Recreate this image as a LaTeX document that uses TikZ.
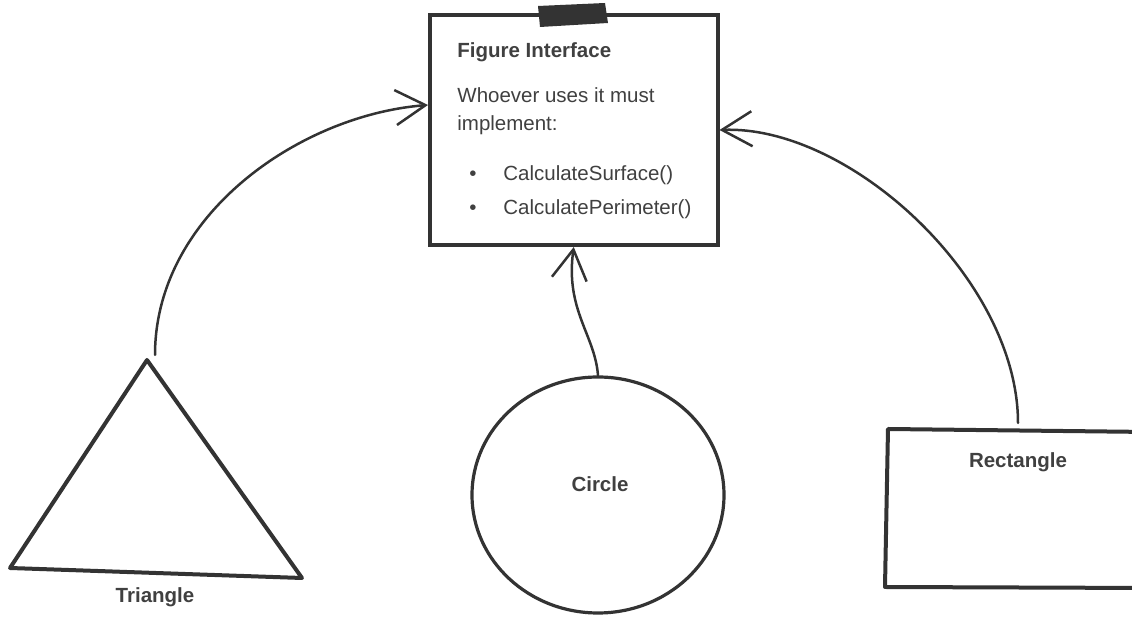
\documentclass[tikz,border=0pt]{standalone}
\usepackage{fontspec}
\setmainfont{Liberation Sans}
\usepackage{tikz}
\usetikzlibrary{arrows.meta,shapes.geometric,calc}
\definecolor{ink}{RGB}{51,51,51}
\definecolor{txtgray}{RGB}{64,64,64}
\tikzset{
  >={Straight Barb[length=15pt,width=17.5pt]},
  ifacebox/.style={draw=ink,line width=2pt,minimum width=143.75pt,
    minimum height=115pt,inner sep=0pt},
  ifacetxt/.style={font=\fontsize{10.25}{12}\selectfont,text=txtgray,
    anchor=base west,inner sep=0pt},
  ifacebul/.style={ifacetxt,anchor=base},
  shapelbl/.style={font=\fontsize{10.25}{12}\selectfont\bfseries,
    text=txtgray,anchor=base,inner sep=0pt},
  outline/.style={draw=ink,line width=2pt,line join=round},
  circbox/.style={ellipse,draw=ink,line width=1.6pt,minimum width=126pt,
    minimum height=118pt,inner sep=0pt},
  impl/.style={->,draw=ink,line width=1.25pt,line cap=round},
  tapestrip/.style={fill=ink},
}
\begin{document}
\begin{tikzpicture}[x=0.5pt,y=-0.5pt]
  \useasboundingbox (0,0) rectangle (1132,619);
  \clip (0,0) rectangle (1132,619);
  % interface card with its tape strip
  \node[ifacebox] (iface) at (573.75,130) {};
  \fill[tapestrip] (538,6) -- (605,3) -- (608,23) -- (540,27) -- cycle;
  \node[ifacetxt,font=\fontsize{10.25}{12}\selectfont\bfseries] (title) at (457,58) {Figure Interface};
  \node[ifacetxt] (rule1) at (457,103) {Whoever uses it must};
  \node[ifacetxt] (rule2) at (457,131) {implement:};
  \node[ifacebul] (bul1) at (473,181) {•};
  \node[ifacetxt] (meth1) at (503,181) {CalculateSurface()};
  \node[ifacebul] (bul2) at (473,215) {•};
  \node[ifacetxt] (meth2) at (503,215) {CalculatePerimeter()};
  % the figures
  \draw[outline] (147,360) -- (302,578) -- (10,568) -- cycle;
  \coordinate (triTop) at (155,355);
  \node[shapelbl] (triLbl) at (155,603) {Triangle};
  \node[circbox] (circ) at (598,495) {};
  \node[shapelbl] (circLbl) at (600,492) {Circle};
  \draw[outline] (888,429) -- (1150,432) -- (1150,588) -- (885,587) -- cycle;
  \coordinate (recTop) at (1018,423);
  \node[shapelbl] (recLbl) at (1018,468) {Rectangle};
  % implements arrows
  \draw[impl] (triTop) .. controls (155,215) and (300,115) .. ([yshift=12.5pt]iface.west);
  \draw[impl] (circ.north) .. controls (595,335) and (565,310) .. (iface.south);
  \draw[impl] (recTop) .. controls (1018,280) and (850,125) .. (iface.east);
\end{tikzpicture}
\end{document}
